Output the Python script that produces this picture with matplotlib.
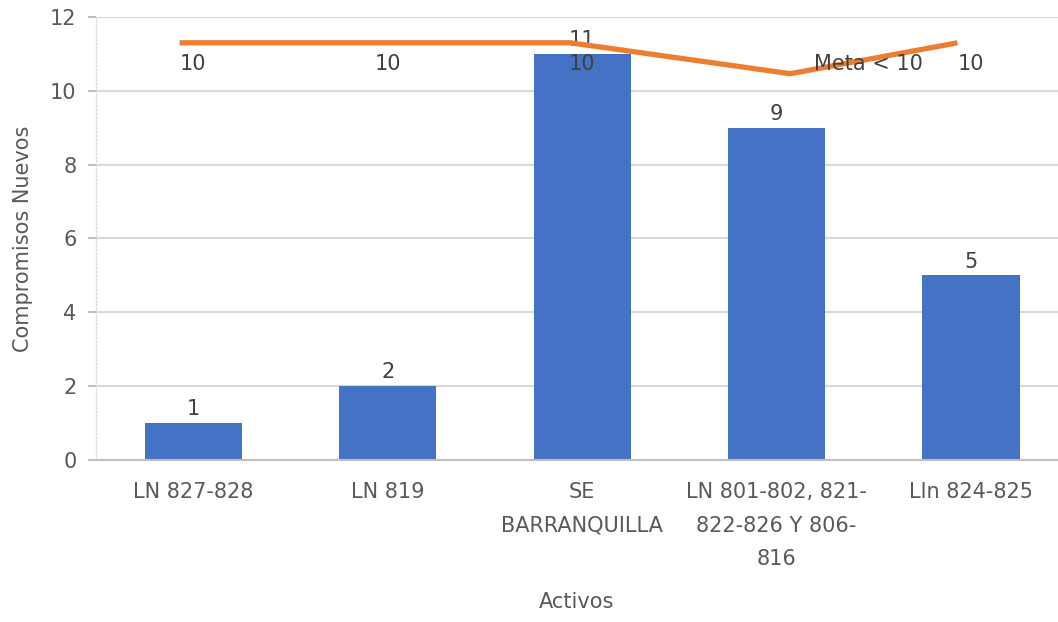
import numpy as np
import matplotlib.pyplot as plt

# data
activos = ["LN 827-828", "LN 819", "SE\nBARRANQUILLA",
           "LN 801-802, 821-\n822-826 Y 806-\n816", "Lln 824-825"]
compromisos = [1, 2, 11, 9, 5]
meta_x = [-0.07, 0.93, 1.94, 3.07, 3.93]
meta = [10, 10, 10, 9.26, 10]
meta_labels = ["10", "10", "10", "Meta < 10", "10"]

bar_color = "#4472C4"
line_color = "#ED7D31"
txt = "#595959"
fs = 15

plt.rcParams['font.family'] = ['DejaVu Sans']

fig = plt.figure(figsize=(10.58, 6.22), dpi=100)
ax = fig.add_axes([0.0907, 0.2605, 0.9093, 0.7122])

x = np.arange(len(activos))
ax.bar(x, compromisos, width=0.5, color=bar_color, zorder=2)
for xi, v in zip(x, compromisos):
    ax.text(xi, v + 0.1, str(v), ha="center", va="bottom", fontsize=fs, color="#404040", zorder=3)

ax.set_ylim(0, 12)
ax.set_xlim(-0.5, 4.447)
ax.set_yticks(range(0, 13, 2))
ax.set_xticks(x)
ax.set_xticklabels(activos, fontsize=fs, color=txt, linespacing=1.85)
ax.tick_params(axis="y", labelsize=fs, colors=txt, length=6, width=1.5, color="#BFBFBF", pad=8)
ax.tick_params(axis="x", length=0, pad=16)
ax.grid(axis="y", color="#D9D9D9", linewidth=1.5, zorder=0)
ax.set_axisbelow(True)
for s in ["top", "right"]:
    ax.spines[s].set_visible(False)
ax.spines["left"].set_color("#D9D9D9")
ax.spines["left"].set_linestyle(":")
ax.spines["left"].set_linewidth(1)
ax.spines["bottom"].set_color("#BFBFBF")
ax.spines["bottom"].set_linewidth(1.5)

ax.set_ylabel("Compromisos Nuevos", fontsize=fs, color=txt, labelpad=12)
ax.set_xlabel("Activos", fontsize=fs, color=txt, labelpad=16)

# meta line on a hidden secondary scale
ax2 = ax.twinx()
ax2.set_ylim(0, 10 * 12 / 11.3)
ax2.plot(meta_x, meta, color=line_color, linewidth=3.8, solid_capstyle="butt")
ax2.axis("off")
for xi, lab in zip(x, meta_labels):
    if lab.startswith("Meta"):
        ax2.text(3.47, 10 - 0.5, lab, ha="center", va="center", fontsize=fs, color="#404040")
    else:
        ax2.text(xi, 10 - 0.5, lab, ha="center", va="center", fontsize=fs, color="#404040")

fig.savefig("out.png", dpi=100)
